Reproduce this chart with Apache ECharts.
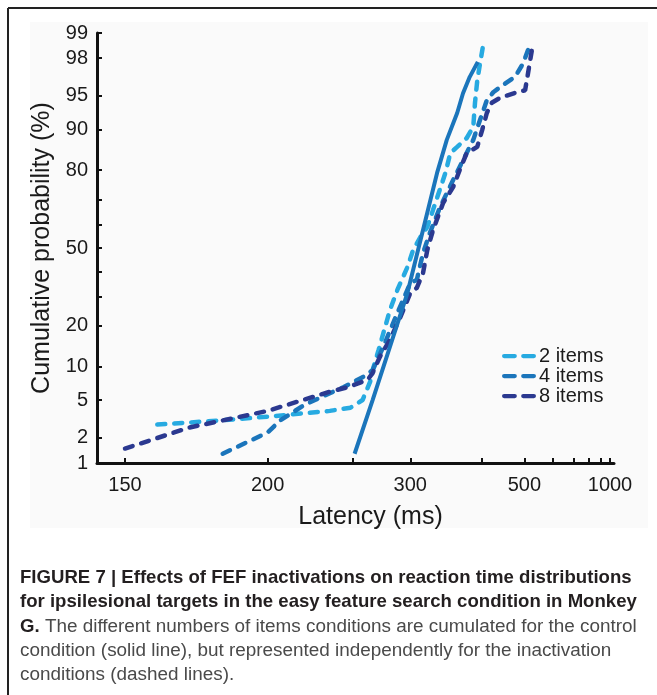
<!DOCTYPE html>
<html>
<head>
<meta charset="utf-8">
<script src="https://cdn.jsdelivr.net/npm/echarts@6/dist/echarts.min.js"></script>
<style>
  html, body { margin: 0; padding: 0; background: #fff; }
  #chart { width: 657px; height: 695px; }
</style>
</head>
<body>
<div id="chart"></div>
<script>
// tick values (ms on x, % on y)
const latencyTicks = [150, 200, 250, 300, 400, 500, 600, 700, 800, 900, 1000];
const latencyLabels = [150, 200, 300, 500, 1000];
const probTicks = [1, 2, 5, 10, 20, 30, 40, 50, 60, 70, 80, 90, 95, 98, 99];
const probLabels = [1, 2, 5, 10, 20, 50, 80, 90, 95, 98, 99];

// control (solid line), all item counts pooled
const controlMs  = [251, 265, 283, 297, 314, 331, 344, 359, 368, 379, 393];
const controlPct = [1.3, 5.0, 16.8, 31.3, 57.7, 79.1, 87.9, 92.8, 95.3, 96.8, 97.8];

// inactivation, 2 items
const items2Ms  = [159, 180, 200, 234, 248, 257, 263, 265, 270, 280, 287, 297, 303, 311, 319, 326, 342, 349, 359, 374, 385, 388, 392, 397, 403];
const items2Pct = [2.8, 3.1, 3.4, 3.9, 4.2, 5.0, 7.4, 9.3, 13.5, 25.1, 32.5, 41.8, 49.1, 54.7, 59.0, 66.0, 79.1, 84.8, 86.3, 88.3, 90.5, 94.2, 96.5, 97.7, 98.6];

// inactivation, 4 items
const items4Ms  = [181, 200, 206, 219, 234, 243, 257, 265, 274, 287, 300, 307, 314, 322, 335, 353, 368, 385, 397, 410, 423, 444, 474, 496, 511];
const items4Pct = [1.3, 2.3, 3.1, 4.5, 5.8, 6.6, 8.1, 9.3, 14.2, 24.1, 35.2, 36.5, 47.8, 56.4, 67.1, 76.9, 82.9, 87.9, 91.7, 94.5, 95.4, 96.1, 96.8, 97.7, 98.4];

// inactivation, 8 items
const items8Ms  = [150, 169, 200, 234, 246, 261, 265, 271, 280, 290, 300, 307, 314, 319, 326, 339, 353, 363, 374, 392, 401, 410, 420, 438, 479, 502, 511, 523];
const items8Pct = [1.5, 2.6, 3.9, 6.0, 6.6, 7.7, 8.8, 11.9, 16.0, 22.8, 31.3, 33.3, 39.3, 49.1, 57.7, 68.7, 74.5, 80.1, 84.8, 86.3, 89.9, 92.8, 94.2, 94.8, 95.4, 95.6, 97.1, 98.4];

// inverse normal CDF (Acklam) for the probit axis
function probit(p) {
  const a = [-3.969683028665376e+01, 2.209460984245205e+02, -2.759285104469687e+02, 1.383577518672690e+02, -3.066479806614716e+01, 2.506628277459239e+00];
  const b = [-5.447609879822406e+01, 1.615858368580409e+02, -1.556989798598866e+02, 6.680131188771972e+01, -1.328068155288572e+01];
  const c = [-7.784894002430293e-03, -3.223964580411365e-01, -2.400758277161838e+00, -2.549732539343734e+00, 4.374664141464968e+00, 2.938163982698783e+00];
  const d = [7.784695709041462e-03, 3.224671290700398e-01, 2.445134137142996e+00, 3.754408661907416e+00];
  const pl = 0.02425;
  let q, r;
  if (p < pl) {
    q = Math.sqrt(-2 * Math.log(p));
    return (((((c[0]*q+c[1])*q+c[2])*q+c[3])*q+c[4])*q+c[5]) / ((((d[0]*q+d[1])*q+d[2])*q+d[3])*q+1);
  }
  if (p > 1 - pl) {
    q = Math.sqrt(-2 * Math.log(1 - p));
    return -(((((c[0]*q+c[1])*q+c[2])*q+c[3])*q+c[4])*q+c[5]) / ((((d[0]*q+d[1])*q+d[2])*q+d[3])*q+1);
  }
  q = p - 0.5; r = q * q;
  return (((((a[0]*r+a[1])*r+a[2])*r+a[3])*r+a[4])*r+a[5])*q / (((((b[0]*r+b[1])*r+b[2])*r+b[3])*r+b[4])*r+1);
}

// reciprobit: x = -1/latency, y = probit(p)
function toXY(ms, pct) {
  return ms.map((m, i) => [-1 / m, probit(pct[i] / 100)]);
}

const FONT = '"Liberation Sans", Arial, sans-serif';
const dash = [8, 9];
// two short dashes for the legend key
const dashIcon = 'path://M2,0h10a2,2 0 0 1 0,4h-10a2,2 0 0 1 0,-4z M20,0h10a2,2 0 0 1 0,4h-10a2,2 0 0 1 0,-4z';

const chart = echarts.init(document.getElementById('chart'));
chart.setOption({
  animation: false,
  backgroundColor: '#fff',
  graphic: [
    { type: 'rect', shape: { x: 30, y: 22, width: 618, height: 506 }, style: { fill: '#fafafa' }, z: -10 },
    { type: 'line', shape: { x1: 8, y1: 8, x2: 657, y2: 8 }, style: { stroke: '#222', lineWidth: 2 } },
    { type: 'line', shape: { x1: 8, y1: 8, x2: 8, y2: 695 }, style: { stroke: '#222', lineWidth: 2 } },
    { type: 'text', left: 20, top: 568, style: { text: 'FIGURE 7 | Effects of FEF inactivations on reaction time distributions', font: 'bold 18.6px ' + FONT, fill: '#231f20' } },
    { type: 'text', left: 20, top: 592, style: { text: 'for ipsilesional targets in the easy feature search condition in Monkey', font: 'bold 18.6px ' + FONT, fill: '#231f20' } },
    { type: 'text', left: 20, top: 617, style: {
      text: '{b|G.} The different numbers of items conditions are cumulated for the control',
      font: '18.9px ' + FONT, fill: '#4a4a4a',
      rich: { b: { font: 'bold 18.6px ' + FONT, fill: '#231f20' } }
    } },
    { type: 'text', left: 20, top: 641, style: { text: 'condition (solid line), but represented independently for the inactivation', font: '18.9px ' + FONT, fill: '#4a4a4a' } },
    { type: 'text', left: 20, top: 665, style: { text: 'conditions (dashed lines).', font: '18.9px ' + FONT, fill: '#4a4a4a' } }
  ],
  grid: { left: 97, top: 33, width: 517, height: 430, containLabel: false },
  legend: {
    data: [
      { name: '2 items', icon: dashIcon },
      { name: '4 items', icon: dashIcon },
      { name: '8 items', icon: dashIcon }
    ],
    orient: 'vertical',
    left: 497,
    top: 341,
    itemWidth: 34,
    itemHeight: 5,
    itemGap: 0,
    textStyle: { fontFamily: FONT, fontSize: 20, color: '#1a1a1a', padding: [0, 0, 0, -2] }
  },
  xAxis: {
    type: 'value',
    min: -0.0069938,
    max: -0.00095326,
    name: 'Latency (ms)',
    nameLocation: 'middle',
    nameGap: 42,
    nameTextStyle: { fontFamily: FONT, fontSize: 25, color: '#1a1a1a', padding: [0, 0, 0, 30] },
    axisLine: { onZero: false, lineStyle: { color: '#111', width: 3 } },
    axisTick: { inside: true, length: 5, lineStyle: { color: '#111', width: 2 }, customValues: latencyTicks.map(v => -1 / v) },
    axisLabel: {
      customValues: latencyLabels.map(v => -1 / v),
      formatter: v => String(Math.round(-1 / v)),
      fontFamily: FONT, fontSize: 20, color: '#1a1a1a', margin: 12,
      showMinLabel: true, showMaxLabel: true
    },
    splitLine: { show: false }
  },
  yAxis: {
    type: 'value',
    min: probit(0.01),
    max: probit(0.99),
    name: 'Cumulative probability (%)',
    nameLocation: 'middle',
    nameGap: 40,
    nameTextStyle: { fontFamily: FONT, fontSize: 25, color: '#1a1a1a' },
    axisLine: { show: true, onZero: false, lineStyle: { color: '#111', width: 3 } },
    axisTick: { show: true, inside: true, length: 5, lineStyle: { color: '#111', width: 2 }, customValues: probTicks.map(v => probit(v / 100)) },
    axisLabel: {
      customValues: probLabels.map(v => probit(v / 100)),
      formatter: v => {
        let best = probLabels[0];
        probLabels.forEach(p => { if (Math.abs(probit(p / 100) - v) < Math.abs(probit(best / 100) - v)) best = p; });
        return String(best);
      },
      fontFamily: FONT, fontSize: 20, color: '#1a1a1a', margin: 9,
      showMinLabel: true, showMaxLabel: true
    },
    splitLine: { show: false }
  },
  series: [
    {
      name: 'Control', type: 'line', symbol: 'none', z: 3,
      data: toXY(controlMs, controlPct),
      lineStyle: { color: '#1b75bb', width: 4 }
    },
    {
      name: '2 items', type: 'line', symbol: 'none', z: 2,
      data: toXY(items2Ms, items2Pct),
      itemStyle: { color: '#27aae1' },
      lineStyle: { color: '#27aae1', width: 4.5, type: dash, cap: 'round' }
    },
    {
      name: '4 items', type: 'line', symbol: 'none', z: 2,
      data: toXY(items4Ms, items4Pct),
      itemStyle: { color: '#1b75bb' },
      lineStyle: { color: '#1b75bb', width: 4.5, type: dash, cap: 'round' }
    },
    {
      name: '8 items', type: 'line', symbol: 'none', z: 2,
      data: toXY(items8Ms, items8Pct),
      itemStyle: { color: '#2b3990' },
      lineStyle: { color: '#2b3990', width: 4.5, type: dash, cap: 'round' }
    }
  ]
});
</script>
</body>
</html>
